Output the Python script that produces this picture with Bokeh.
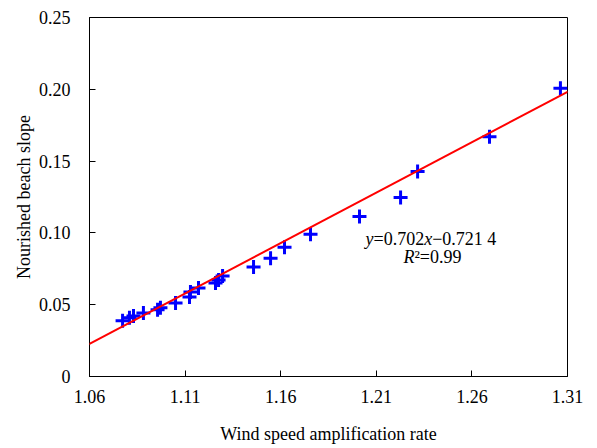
from bokeh.plotting import figure
from bokeh.models import Slope, Label, CustomJSTickFormatter, FixedTicker, Range1d
from bokeh.embed import file_html
from bokeh.resources import INLINE

# Data
wind_rate = [1.0773, 1.0809, 1.0830, 1.0882, 1.0956, 1.0971, 1.1050, 1.1123,
             1.1128, 1.1170, 1.1259, 1.1275, 1.1296, 1.1458, 1.1547, 1.1620,
             1.1756, 1.2012, 1.2227, 1.2316, 1.2692, 1.3063]
beach_slope = [0.0388, 0.0409, 0.0422, 0.0443, 0.0464, 0.0478, 0.0512, 0.0554,
               0.0589, 0.0616, 0.0651, 0.0672, 0.0699, 0.0762, 0.0824, 0.0900,
               0.0990, 0.1115, 0.1247, 0.1427, 0.1669, 0.2008]
fit_slope = 0.702
fit_intercept = -0.7214
x_ticks = [1.06, 1.11, 1.16, 1.21, 1.26, 1.31]
y_ticks = [0, 0.05, 0.10, 0.15, 0.20, 0.25]

FONT = "Liberation Serif"

p = figure(width=590, height=446, output_backend="svg", toolbar_location=None,
           x_range=Range1d(1.06, 1.31), y_range=Range1d(0, 0.25),
           min_border_left=89, min_border_right=23, min_border_top=17, min_border_bottom=68)
p.background_fill_color = "white"
p.border_fill_color = "white"
p.outline_line_color = "black"
p.outline_line_width = 1
p.xgrid.visible = False
p.ygrid.visible = False

p.scatter(wind_rate, beach_slope, marker="cross", size=14, line_width=3, color="#0000FF")
p.add_layout(Slope(gradient=fit_slope, y_intercept=fit_intercept, line_color="#FF0000", line_width=2))

for ax in (p.xaxis[0], p.yaxis[0]):
    ax.major_tick_in = 6
    ax.major_tick_out = 0
    ax.minor_tick_line_color = None
    ax.axis_line_color = "black"
    ax.major_tick_line_color = "black"
    ax.major_label_text_font = FONT
    ax.major_label_text_font_size = "18px"
    ax.major_label_text_color = "black"
    ax.axis_label_text_font = FONT
    ax.axis_label_text_font_size = "18px"
    ax.axis_label_text_font_style = "normal"
    ax.axis_label_text_color = "black"

p.xaxis.ticker = FixedTicker(ticks=x_ticks)
p.yaxis.ticker = FixedTicker(ticks=y_ticks)
p.xaxis.formatter = CustomJSTickFormatter(code="return tick.toFixed(2);")
p.yaxis.formatter = CustomJSTickFormatter(code="return Math.abs(tick) < 1e-9 ? '0' : tick.toFixed(2);")
p.xaxis.axis_label = "Wind speed amplification rate"
p.yaxis.axis_label = "Nourished beach slope"
p.xaxis.major_label_standoff = 13
p.xaxis.axis_label_standoff = 18
p.yaxis.major_label_standoff = 19
p.yaxis.axis_label_standoff = 2

# Equation annotation
ex, ey = 1.2044, 0.0956
parts = [("y", "italic", 0), ("=0.702", "normal", 8), ("x", "italic", 58.6), ("\u22120.721 4", "normal", 66.6)]
for txt, style, off in parts:
    p.add_layout(Label(x=ex, y=ey, x_offset=off, text=txt, text_font=FONT, text_font_size="18px",
                       text_font_style=style, text_baseline="middle", text_align="left", text_color="black"))
rx, ry = 1.2242, 0.0831
for txt, style, off in [("R", "italic", 0), ("\u00b2=0.99", "normal", 11)]:
    p.add_layout(Label(x=rx, y=ry, x_offset=off, text=txt, text_font=FONT, text_font_size="18px",
                       text_font_style=style, text_baseline="middle", text_align="left", text_color="black"))

open("out.html", "w").write(file_html(p, INLINE))
